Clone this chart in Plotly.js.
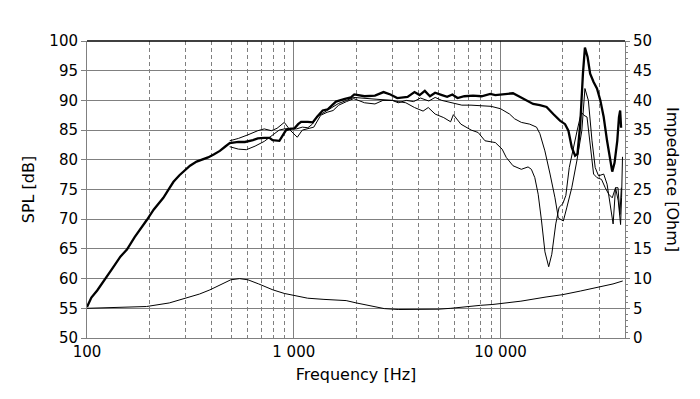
<!DOCTYPE html>
<html>
<head>
<meta charset="utf-8">
<script src="https://cdn.plot.ly/plotly-3.0.1.min.js"></script>
<style>html,body{margin:0;padding:0;background:#fff;}#chart{width:700px;height:399px;}</style>
</head>
<body>
<div id="chart"></div>
<script>
// On-axis SPL (thick)
const freqOnAxis = [100,105,112,121,132,145,156,170,185,195,210,234,250,262,280,292,315,339,365,385,410,439,465,490,540,580,635,670,720,763,790,852,880,918,960,1008,1050,1085,1170,1235,1300,1380,1460,1540,1600,1750,1890,1962,2100,2200,2470,2718,2934,3166,3552,3836,4062,4304,4558,4828,5212,5520,5850,6194,6688,7362,8100,8920,9440,10380,11000,11490,12380,13340,14380,15500,16700,17990,19390,20520,21300,22110,22950,23560,24300,25040,25600,26370,27130,28190,29270,30400,31550,32760,34000,34700,35600,36700,37400,37900,38300];
const splOnAxis = [55.2,56.8,58.0,59.8,61.6,63.7,64.9,67.0,68.7,69.9,71.6,73.6,75.2,76.3,77.4,78.0,79.0,79.7,80.1,80.4,80.9,81.5,82.2,82.8,83.0,83.0,83.3,83.6,83.7,83.7,83.3,83.2,84.0,85.0,85.2,85.3,86.0,86.4,86.4,86.3,87.3,88.3,88.5,89.2,89.8,90.2,90.5,91.0,90.8,90.7,90.8,91.4,91.0,90.4,90.6,91.4,90.9,91.6,90.7,91.3,90.9,90.6,91.0,90.4,90.7,90.8,90.7,91.1,90.9,91.0,91.1,91.2,90.6,90.0,89.4,89.2,88.9,87.7,86.6,86.0,84.9,82.1,80.7,81.0,86.0,94.5,98.9,97.3,94.5,93.1,92.0,90.0,87.2,83.2,79.3,78.0,79.5,83.2,87.2,88.3,85.4];

// Off-axis A (holds to ~12 kHz)
const freqA = [490,540,600,670,720,780,830,900,960,1040,1100,1170,1250,1350,1450,1550,1650,1800,1950,2200,2470,2700,3000,3200,3500,3800,4100,4500,4830,5200,5500,6000,6500,7200,8000,9000,10000,11060,11700,12610,13850,14930,15500,16390,17360,18340,19040,20130,20900,22110,23390,24730,25600,26600,27700,28700,29800,31550,32760,34000,35040,36000,37000,37800,38400];
const splA = [83.2,83.6,84.2,84.9,85.2,84.9,85.3,86.3,85.0,83.8,85.0,85.3,85.5,87.5,88.0,88.3,89.2,89.8,90.3,89.6,89.4,90.0,90.0,89.6,90.0,89.8,90.4,89.9,90.5,90.0,89.8,89.5,89.2,89.2,89.1,89.0,88.6,87.7,86.9,86.3,86.0,85.5,84.4,81.5,77.6,73.6,70.2,69.7,71.9,75.3,79.8,84.9,92.0,90.0,83.2,78.7,77.3,77.6,75.9,71.9,69.2,75.3,75.3,70.8,75.3];

// Off-axis B (drops from ~4 kHz)
const freqB = [490,540,590,650,720,790,850,900,960,1030,1100,1170,1230,1300,1400,1500,1650,1800,1950,2500,3000,3200,3484,3836,4222,4472,4828,5314,5736,5916,6432,7218,7792,8412,9440,10180,10660,11490,12610,13590,14100,14650,15210,15790,16400,17100,17700,18500,19200,20000,20700,21500,22500,23500,24600,25300,26200,27130,28190,29270,30800,32100,33380,34700,36000,37100,38080,38500,38900];
const splB = [82.2,81.8,81.7,82.3,83.1,84.2,85.0,85.2,85.3,85.2,85.5,85.4,86.0,87.3,88.0,88.6,89.5,90.0,90.5,90.2,90.0,89.8,89.6,88.8,88.2,88.8,87.7,87.1,86.4,87.6,86.0,85.0,84.6,83.2,82.9,81.8,80.4,79.0,78.4,78.8,78.4,77.0,74.2,69.7,64.5,62.0,64.1,69.2,72.0,72.6,74.0,78.7,82.1,85.0,88.0,87.5,87.2,82.1,77.6,77.0,76.7,75.3,74.2,73.6,75.3,73.1,69.1,73.6,80.5];

// Impedance (right axis)
const freqImp = [100,142,194,250,299,350,393,450,496,547,600,677,793,900,1000,1167,1400,1792,2008,2400,2739,3200,4055,5000,5750,7000,8000,9190,12550,16600,20000,24300,30000,35000,39000];
const impedance = [5.0,5.1,5.3,5.9,6.7,7.4,8.1,9.1,9.8,10.0,9.8,9.1,8.1,7.5,7.2,6.7,6.5,6.3,5.9,5.3,4.95,4.8,4.8,4.85,5.0,5.35,5.5,5.65,6.2,6.9,7.3,7.9,8.6,9.1,9.6];

const xTickVals = [100,1000,10000];
const xTickText = ['100','1 000','10 000'];
const xMinorVals = [200,300,400,500,600,700,800,900,2000,3000,4000,5000,6000,7000,8000,9000,20000,30000];

const FONT = 'DejaVu Sans, Verdana, sans-serif';
const GRID = '#808080';

const traces = [
  {x: freqImp, y: impedance, yaxis: 'y2', mode: 'lines', line: {color: '#000', width: 1}, hoverinfo: 'skip'},
  {x: freqB, y: splB, mode: 'lines', line: {color: '#000', width: 1}, hoverinfo: 'skip'},
  {x: freqA, y: splA, mode: 'lines', line: {color: '#000', width: 1}, hoverinfo: 'skip'},
  {x: freqOnAxis, y: splOnAxis, mode: 'lines', line: {color: '#000', width: 2.3}, hoverinfo: 'skip'}
];

const layout = {
  width: 700, height: 399,
  paper_bgcolor: '#fff', plot_bgcolor: '#fff',
  margin: {l: 87, r: 75, t: 41, b: 61},
  showlegend: false,
  font: {family: FONT, color: '#000', size: 15},
  xaxis: {
    type: 'log', range: [2, Math.log10(40000)],
    tickmode: 'array', tickvals: xTickVals, ticktext: xTickText,
    showgrid: true, gridcolor: GRID, gridwidth: 1,
    showline: true, linecolor: GRID, linewidth: 1,
    zeroline: false, ticks: '',
    tickfont: {family: FONT, size: 15, color: '#000'},
    minor: {tickmode: 'array', tickvals: xMinorVals, showgrid: true, gridcolor: GRID, gridwidth: 1, griddash: '4px,3px', ticks: ''},
    title: {text: 'Frequency [Hz]', font: {family: FONT, size: 16, color: '#000'}, standoff: 8}
  },
  yaxis: {
    range: [50, 100], tick0: 50, dtick: 5,
    showgrid: true, gridcolor: GRID, gridwidth: 1,
    showline: true, linecolor: GRID, linewidth: 1,
    zeroline: false, ticks: 'outside', ticklen: 5, tickcolor: GRID,
    tickfont: {family: FONT, size: 15, color: '#000'},
    title: {text: 'SPL [dB]', font: {family: FONT, size: 16, color: '#000'}, standoff: 10}
  },
  yaxis2: {
    overlaying: 'y', side: 'right',
    range: [0, 50], tick0: 0, dtick: 5,
    showgrid: false, zeroline: false,
    showline: true, linecolor: GRID, linewidth: 1,
    ticks: 'outside', ticklen: 4, tickcolor: GRID,
    tickfont: {family: FONT, size: 15, color: '#000'},
    minor: {dtick: 1, ticks: 'outside', ticklen: 2, tickcolor: GRID, showgrid: false}
  },
  shapes: [
    {type: 'line', xref: 'paper', yref: 'paper', x0: 0, x1: 1, y0: 1, y1: 1, line: {color: '#000', width: 1.5}}
  ],
  annotations: [
    {text: 'Impedance [Ohm]', xref: 'paper', yref: 'paper', x: 1.088, y: 0.534, xanchor: 'center', yanchor: 'middle', textangle: 90, showarrow: false, font: {family: FONT, size: 16, color: '#000'}}
  ]
};

Plotly.newPlot('chart', traces, layout, {staticPlot: true, displayModeBar: false});
</script>
</body>
</html>
